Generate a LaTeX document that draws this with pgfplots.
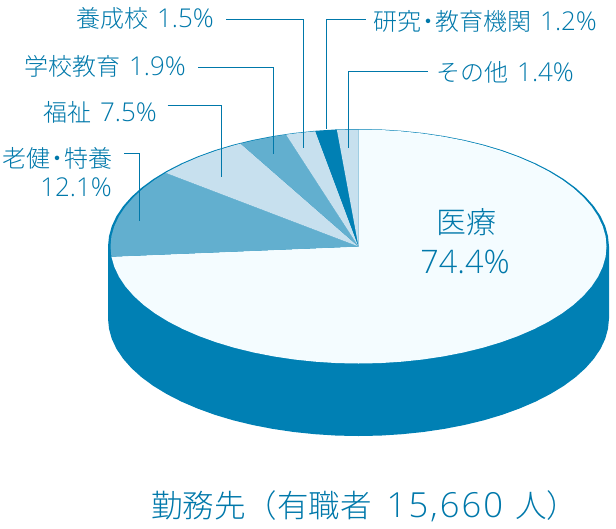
\documentclass[border=0pt]{standalone}
\usepackage{fontspec}
\usepackage{pgfplots}
\pgfplotsset{compat=1.18}
\setmainfont{Noto Sans CJK JP Light}
\newfontfamily\numf[Scale=1.08]{Open Sans Light}

\definecolor{piedark}{HTML}{0080B4}
\definecolor{piemid}{HTML}{62AFCF}
\definecolor{pielight}{HTML}{C7E0EE}
\definecolor{piewhite}{HTML}{F4FCFF}
\definecolor{pietext}{HTML}{0078AA}

% narrow middle dot of the reference
\newcommand{\dotj}{\hspace{-5pt}・\hspace{-5pt}}
\newcommand{\lab}[2]{#1\hspace{9pt}{\numf #2}}

\begin{document}
\begin{tikzpicture}
\begin{axis}[
    width=616pt,
    height=528pt,
    scale only axis,
    hide axis,
    clip=false,
    xmin=0, xmax=616,
    ymin=0, ymax=528,
    y dir=reverse,
    every axis plot/.append style={no markers},
    nodes={text=pietext,inner sep=0pt},
]

% keeps the whole frame in the picture
\path (axis cs:0,0) -- (axis cs:616,528);

% body of the pie, coordinates in pixels of the reference
\addplot[fill=piedark,draw=none] coordinates {
    (108,246.5) (109,236.3) (111.8,226.1) (116.5,216.1) (123.1,206.3) (131.5,196.8)
    (141.6,187.7) (153.3,179.1) (166.6,171.0) (181.4,163.4) (197.5,156.5) (214.8,150.2)
    (233.2,144.7) (252.6,140.0) (272.8,136.1) (293.7,133.0) (315,130.8) (336.7,129.4)
    (358.5,129) (380.3,129.4) (402,130.8) (423.3,133) (444.2,136.1) (464.4,140)
    (483.8,144.7) (502.2,150.2) (519.5,156.5) (535.6,163.4) (550.4,171) (563.7,179.1)
    (575.4,187.7) (585.5,196.8) (593.9,206.3) (600.5,216.1) (605.2,226.1) (608,236.3)
    (609,246.5)
    (609,318.5) (608,328.7) (605.2,338.9) (600.5,348.9) (593.9,358.7) (585.5,368.2)
    (575.4,377.3) (563.7,385.9) (550.4,394) (535.6,401.6) (519.5,408.5) (502.2,414.8)
    (483.8,420.3) (464.4,425) (444.2,428.9) (423.3,432) (402,434.2) (380.3,435.6)
    (358.5,436) (336.7,435.6) (315,434.2) (293.7,432) (272.8,428.9) (252.6,425)
    (233.2,420.3) (214.8,414.8) (197.5,408.5) (181.4,401.6) (166.6,394) (153.3,385.9)
    (141.6,377.3) (131.5,368.2) (123.1,358.7) (116.5,348.9) (111.8,338.9) (109,328.7)
    (108,318.5)
} --cycle;

% medical 74.4
\addplot[fill=piewhite,draw=none] coordinates {
    (358.5,246.5) (111.4,256.7) (114.3,266.8) (119.0,276.8) (125.5,286.5) (133.7,295.9)
    (143.7,305.0) (155.3,313.6) (168.5,321.7) (183.1,329.2) (199.1,336.1) (216.2,342.3)
    (234.5,347.8) (253.7,352.5) (273.7,356.4) (294.3,359.5) (315.4,361.7) (336.9,363.1)
    (358.5,363.5) (380.1,363.1) (401.6,361.7) (422.7,359.5) (443.3,356.4) (463.3,352.5)
    (482.5,347.8) (500.8,342.3) (517.9,336.1) (533.9,329.2) (548.5,321.7) (561.7,313.6)
    (573.3,305.0) (583.3,295.9) (591.5,286.5) (598.0,276.8) (602.7,266.8) (605.6,256.7)
    (606.5,246.5) (605.6,236.3) (602.7,226.2) (598.0,216.2) (591.5,206.5) (583.3,197.1)
    (573.3,188.0) (561.7,179.4) (548.5,171.3) (533.9,163.8) (517.9,156.9) (500.8,150.7)
    (482.5,145.2) (463.3,140.5) (443.3,136.6) (422.7,133.5) (401.6,131.3) (380.1,129.9)
    (358.5,129.5)
} --cycle;

% roken 12.1
\addplot[fill=piemid,draw=none] coordinates {
    (358.5,246.5) (165.8,172.9) (155.3,179.4) (143.7,188.0) (133.7,197.1) (125.5,206.5)
    (119.0,216.2) (114.3,226.2) (111.4,236.3) (110.5,246.5) (111.4,256.7)
} --cycle;

% welfare 7.5
\addplot[fill=pielight,draw=none] coordinates {
    (358.5,246.5) (240.6,143.6) (234.5,145.2) (216.2,150.7) (199.1,156.9) (183.1,163.8)
    (168.5,171.3) (165.8,172.9)
} --cycle;

% school education 1.9
\addplot[fill=piemid,draw=none] coordinates {
    (358.5,246.5) (286.0,134.6) (273.7,136.6) (253.7,140.5) (240.6,143.6)
} --cycle;

% training schools 1.5
\addplot[fill=pielight,draw=none] coordinates {
    (358.5,246.5) (315.4,131.3) (294.3,133.5) (286.0,134.6)
} --cycle;

% research 1.2
\addplot[fill=piedark,draw=none] coordinates {
    (358.5,246.5) (336.9,129.9) (315.4,131.3)
} --cycle;

% other 1.4
\addplot[fill=pielight,draw=none] coordinates {
    (358.5,246.5) (358.5,129.5) (336.9,129.9)
} --cycle;

% leader lines
\addplot[pietext,line width=1pt] coordinates {(226,19.5) (303.3,19.5) (303.3,148)};
\addplot[pietext,line width=1pt] coordinates {(198,67.5) (273.3,67.5) (273.3,154)};
\addplot[pietext,line width=1pt] coordinates {(167.7,105) (221.7,105) (221.7,177.3)};
\addplot[pietext,line width=1pt] coordinates {(124,153.7) (139,153.7) (139,220.7)};
\addplot[pietext,line width=1pt] coordinates {(365.7,19.5) (326.7,19.5) (326.7,129)};
\addplot[pietext,line width=1pt] coordinates {(427.7,71.3) (348.3,71.3) (348.3,148)};

% labels
\node[anchor=east,font=\fontsize{24}{26}\selectfont] at (axis cs:214,18) {\lab{養成校}{1.5\%}};
\node[anchor=east,font=\fontsize{24}{26}\selectfont] at (axis cs:186,66) {\lab{学校教育}{1.9\%}};
\node[anchor=east,font=\fontsize{24}{26}\selectfont] at (axis cs:157,112) {\lab{福祉}{7.5\%}};
\node[anchor=east,font=\fontsize{24}{26}\selectfont] at (axis cs:113,158) {老健\dotj 特養};
\node[anchor=east,font=\fontsize{24}{26}\selectfont] at (axis cs:112,187) {\numf 12.1\%};
\node[anchor=west,font=\fontsize{24}{26}\selectfont] at (axis cs:373,21) {\lab{研究\dotj 教育機関}{1.2\%}};
\node[anchor=west,font=\fontsize{24}{26}\selectfont] at (axis cs:436,72) {\lab{その他}{1.4\%}};
\node[font=\fontsize{30}{34}\selectfont] at (axis cs:466,222) {医療};
\node[font=\fontsize{30}{34}\selectfont] at (axis cs:465,262) {\numf 74.4\%};
\node[anchor=west,font=\fontsize{31.5}{34}\selectfont] at (axis cs:151,506) {勤務先（有職者\hspace{15pt}{\numf\addfontfeatures{LetterSpace=6}\fontsize{32}{34}\selectfont 15,660}\hspace{12pt}人）};
\end{axis}
\end{tikzpicture}
\end{document}
